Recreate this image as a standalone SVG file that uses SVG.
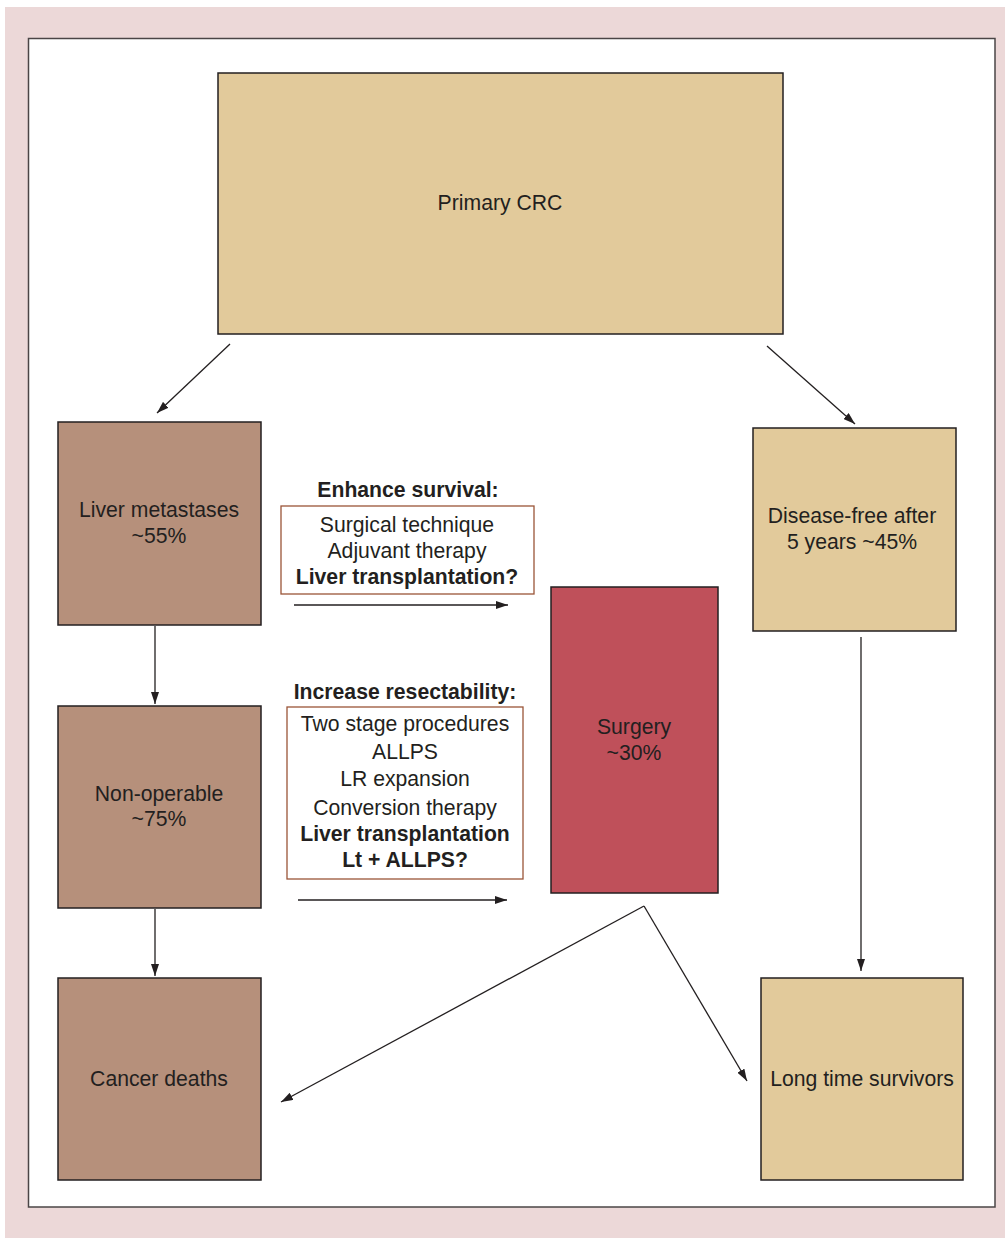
<svg xmlns="http://www.w3.org/2000/svg" width="1005" height="1238" viewBox="0 0 1005 1238">
<style>
.box{stroke:#231f20;stroke-width:1.5}
.tan{fill:#e2ca9b}
.brown{fill:#b6907b}
.red{fill:#bf505a}
.tbox{fill:#ffffff;stroke:#9a5538;stroke-width:1.3}
text{font-family:"Liberation Sans",Arial,sans-serif;font-size:21.2px;fill:#231f20;text-anchor:middle}
.b{font-weight:bold}
.conn line{stroke:#231f20;stroke-width:1.3;fill:none}
</style>
<defs>
<marker id="ah" viewBox="0 0 12 8" refX="12" refY="4" markerWidth="12" markerHeight="8" markerUnits="userSpaceOnUse" orient="auto">
<path d="M0,0 L12,4 L0,8 Z" fill="#231f20"/>
</marker>
</defs>
<rect x="5" y="7" width="1000" height="1231" fill="#ecd8d8"/>
<rect x="28.5" y="38.5" width="966.5" height="1168.5" fill="#ffffff" stroke="#4a4546" stroke-width="1.5"/>

<g id="primary">
<rect class="box tan" x="218" y="73" width="565" height="261"/>
<text x="500" y="210">Primary CRC</text>
</g>
<g id="liver">
<rect class="box brown" x="58" y="422" width="203" height="203"/>
<text x="159" y="517">Liver metastases</text>
<text x="159" y="543">~55%</text>
</g>
<g id="nonop">
<rect class="box brown" x="58" y="706" width="203" height="202"/>
<text x="159" y="801">Non-operable</text>
<text x="159" y="826">~75%</text>
</g>
<g id="cancer">
<rect class="box brown" x="58" y="978" width="203" height="202"/>
<text x="159" y="1086">Cancer deaths</text>
</g>
<g id="diseasefree">
<rect class="box tan" x="753" y="428" width="203" height="203"/>
<text x="852" y="523">Disease-free after</text>
<text x="852" y="549">5 years ~45%</text>
</g>
<g id="surgery">
<rect class="box red" x="551" y="587" width="167" height="306"/>
<text x="634" y="734">Surgery</text>
<text x="634" y="760">~30%</text>
</g>
<g id="longtime">
<rect class="box tan" x="761" y="978" width="202" height="202"/>
<text x="862" y="1086">Long time survivors</text>
</g>
<g id="enhance">
<text class="b" x="408" y="497">Enhance survival:</text>
<rect class="tbox" x="281" y="506" width="253" height="88"/>
<text x="407" y="532">Surgical technique</text>
<text x="407" y="558">Adjuvant therapy</text>
<text class="b" x="407" y="584">Liver transplantation?</text>
</g>
<g id="increase">
<text class="b" x="405" y="699">Increase resectability:</text>
<rect class="tbox" x="287" y="707" width="236" height="172"/>
<text x="405" y="731">Two stage procedures</text>
<text x="405" y="759">ALLPS</text>
<text x="405" y="786">LR expansion</text>
<text x="405" y="815">Conversion therapy</text>
<text class="b" x="405" y="841">Liver transplantation</text>
<text class="b" x="405" y="867">Lt + ALLPS?</text>
</g>
<g class="conn" id="connectors">
<line x1="230" y1="344" x2="157" y2="413" marker-end="url(#ah)"/>
<line x1="767" y1="346" x2="855" y2="424" marker-end="url(#ah)"/>
<line x1="294" y1="605" x2="508" y2="605" marker-end="url(#ah)"/>
<line x1="298" y1="900" x2="507" y2="900" marker-end="url(#ah)"/>
<line x1="155" y1="626" x2="155" y2="704" marker-end="url(#ah)"/>
<line x1="155" y1="909" x2="155" y2="976" marker-end="url(#ah)"/>
<line x1="861" y1="637" x2="861" y2="971" marker-end="url(#ah)"/>
<line x1="644" y1="906" x2="281" y2="1102" marker-end="url(#ah)"/>
<line x1="644" y1="906" x2="747" y2="1081" marker-end="url(#ah)"/>
</g>
</svg>
